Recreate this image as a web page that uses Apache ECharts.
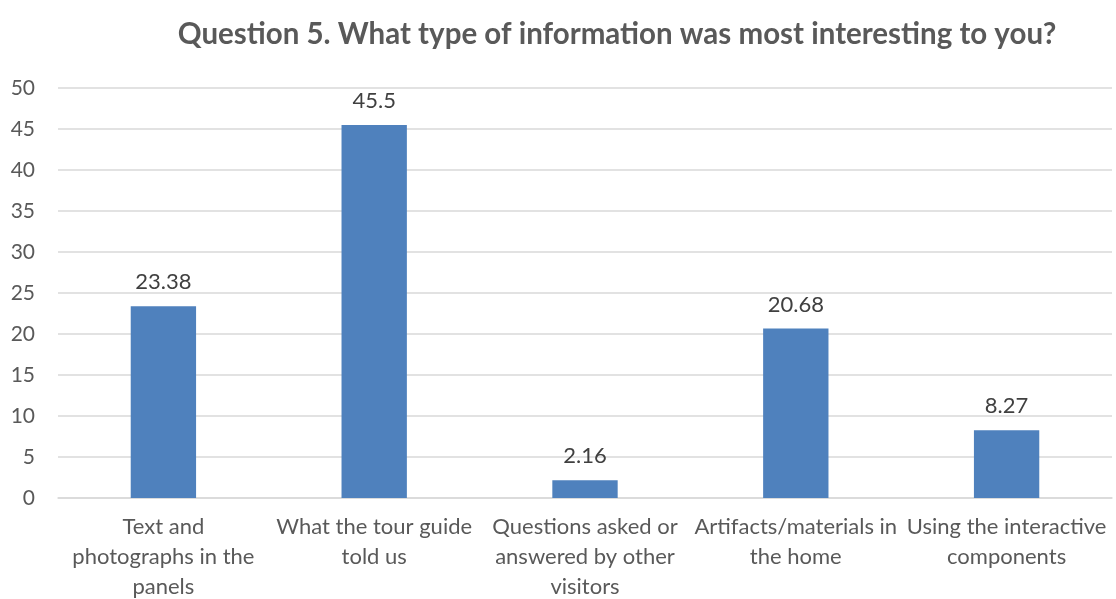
<!DOCTYPE html>
<html>
<head>
<meta charset="utf-8">
<script src="https://cdn.jsdelivr.net/npm/echarts@6/dist/echarts.min.js"></script>
<style>
  html, body { margin: 0; padding: 0; background: #fff; }
  #chart { width: 1116px; height: 599px; }
</style>
</head>
<body>
<div id="chart"></div>
<script>
// Datos del gráfico
const categories = [
  'Text and\nphotographs in the\npanels',
  'What the tour guide\ntold us',
  'Questions asked or\nanswered by other\nvisitors',
  'Artifacts/materials in\nthe home',
  'Using the interactive\ncomponents'
];
const values = [23.38, 45.5, 2.16, 20.68, 8.27];

const chart = echarts.init(document.getElementById('chart'));
const font = 'Lato, "Open Sans", sans-serif';

chart.setOption({
  animation: false,
  title: {
    text: 'Question 5. What type of information was most interesting to you?',
    left: 612,
    top: 14,
    textAlign: 'center',
    textStyle: { fontFamily: font, fontSize: 29.5, fontWeight: 'bold', color: '#595959' }
  },
  grid: { left: 58, right: 4, top: 88, bottom: 101, containLabel: false, outerBoundsMode: 'none' },
  xAxis: {
    type: 'category',
    data: categories,
    axisLine: { lineStyle: { color: '#d9d9d9', width: 1.5 } },
    axisTick: { show: false },
    axisLabel: {
      interval: 0,
      margin: 14,
      fontFamily: font,
      fontSize: 22,
      lineHeight: 30,
      color: '#595959'
    }
  },
  yAxis: {
    type: 'value',
    min: 0,
    max: 50,
    interval: 5,
    axisLine: { show: false },
    axisTick: { show: false },
    axisLabel: { margin: 23, fontFamily: font, fontSize: 21, color: '#595959' },
    splitLine: { lineStyle: { color: '#d9d9d9', width: 1.5 } }
  },
  series: [{
    type: 'bar',
    data: values,
    barWidth: '31%',
    itemStyle: { color: '#4f81bd' },
    label: {
      show: true,
      position: 'top',
      distance: 13,
      fontFamily: font,
      fontSize: 22,
      color: '#404040'
    }
  }]
});
</script>
</body>
</html>
